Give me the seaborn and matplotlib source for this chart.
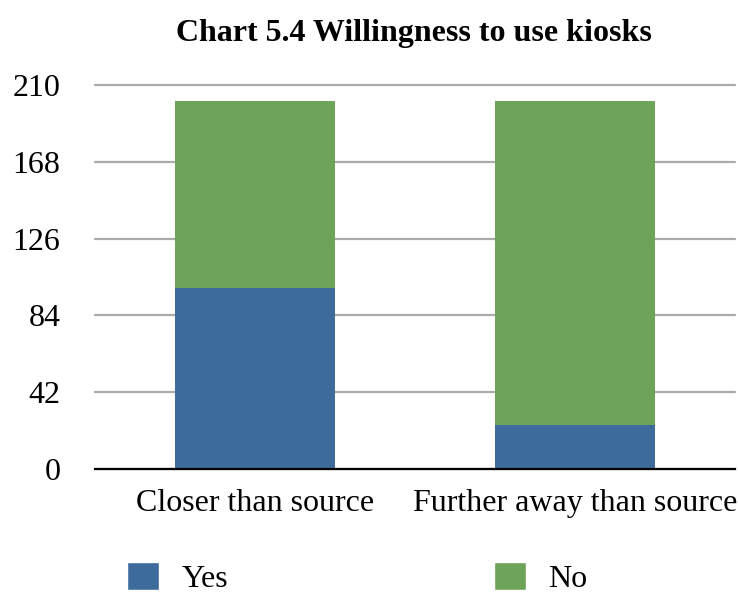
import numpy as np
import pandas as pd
import seaborn as sb
import matplotlib as mpl
import matplotlib.pyplot as plt
from matplotlib.patches import Patch

categories = ['Closer than source', 'Further away than source']
yes_vals = [99, 24]
no_vals = [102, 177]
y_ticks = [0, 42, 84, 126, 168, 210]

BLUE = '#3D6B9B'
GREEN = '#6EA35A'

sb.set_style('white')
mpl.rcParams['font.family'] = ['Liberation Serif', 'DejaVu Serif']
mpl.rcParams['text.color'] = 'black'
mpl.rcParams['xtick.color'] = 'black'
mpl.rcParams['ytick.color'] = 'black'

df = pd.DataFrame({'cat': categories, 'Yes': yes_vals, 'No': no_vals})
df['Total'] = df['Yes'] + df['No']

fig = plt.figure(figsize=(7.38, 5.93), dpi=100)
ax = fig.add_axes([0.129, 0.209, 0.867, 0.648])

# stacked: total (green) underneath, yes (blue) on top of it
sb.barplot(data=df, x='cat', y='Total', color=GREEN, saturation=1,
           width=0.5, ax=ax, zorder=3)
sb.barplot(data=df, x='cat', y='Yes', color=BLUE, saturation=1,
           width=0.5, ax=ax, zorder=4)
for p in ax.patches:
    p.set_linewidth(0)

ax.set_ylim(0, 210)
ax.set_xlim(-0.5, 1.5)
ax.set_yticks(y_ticks)
ax.yaxis.grid(True, color='#AAAAAA', linewidth=1.6, zorder=0)
for gl in ax.get_ygridlines():
    gl.set_clip_on(False)
ax.set_axisbelow(True)
for s in ['top', 'right', 'left']:
    ax.spines[s].set_visible(False)
ax.spines['bottom'].set_color('black')
ax.spines['bottom'].set_linewidth(1.6)
ax.spines['bottom'].set_zorder(5)

ax.tick_params(axis='y', length=0, pad=25, labelsize=23, labelcolor='black')
ax.tick_params(axis='x', length=0, pad=14, labelsize=23, labelcolor='black')
ax.set_xlabel('')
ax.set_ylabel('')

fig.suptitle('Chart 5.4 Willingness to use kiosks', fontsize=23,
             fontweight='bold', x=0.561, y=0.968, color='black')

handles = [Patch(facecolor=BLUE, label='Yes'), Patch(facecolor=GREEN, label='No')]
fig.legend(handles=handles, loc='lower left', bbox_to_anchor=(0.133, -0.05),
           ncol=2, frameon=False, fontsize=23, handlelength=1.0,
           handleheight=1.0, handletextpad=0.7, columnspacing=8.32,
           labelcolor='black')

fig.savefig('out.png', dpi=100)
